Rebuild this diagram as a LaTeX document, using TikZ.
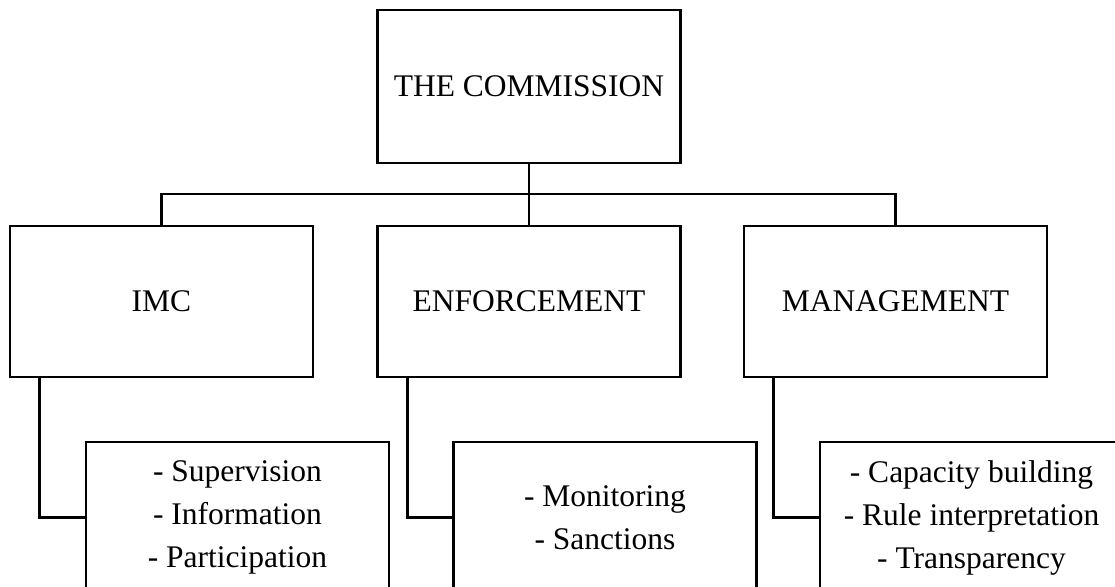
\documentclass[tikz,border=0pt]{standalone}
\usepackage{fontspec}
\setmainfont{Liberation Serif}
\begin{document}
\begin{tikzpicture}[x=0.5pt,y=-0.5pt,
  orgbox/.style={draw, line width=1.35pt, minimum width=151.5pt, minimum height=75.5pt,
    inner sep=0pt, align=center, font=\fontsize{15.75pt}{21.5pt}\selectfont},
  link/.style={draw, line width=1.35pt}]
\useasboundingbox (0,0) rectangle (1115,587);
\clip (0,0) rectangle (1115,587);
\node[orgbox, minimum height=76.5pt] (top) at (529,86.5) {THE COMMISSION};
\node[orgbox] (imc) at (161.5,301.5) {IMC};
\node[orgbox] (enf) at (529,301.5) {ENFORCEMENT};
\node[orgbox] (mgt) at (895.5,301.5) {MANAGEMENT};
\node[orgbox] (s1) at (237.5,517.5) {- Supervision\\- Information\\- Participation};
\node[orgbox] (s2) at (605,517.5) {- Monitoring\\- Sanctions};
\node[orgbox] (s3) at (971.5,517.5) {- Capacity building\\- Rule interpretation\\- Transparency};
\coordinate (bus) at (529,194);
\path[link] (top.south) -- (enf.north);
\path[link] (imc.north) |- (bus) -| (mgt.north);
\path[link] ([xshift=15.5pt]imc.south west) |- (s1.west);
\path[link] ([xshift=15.5pt]enf.south west) |- (s2.west);
\path[link] ([xshift=15.5pt]mgt.south west) |- (s3.west);
\end{tikzpicture}
\end{document}
